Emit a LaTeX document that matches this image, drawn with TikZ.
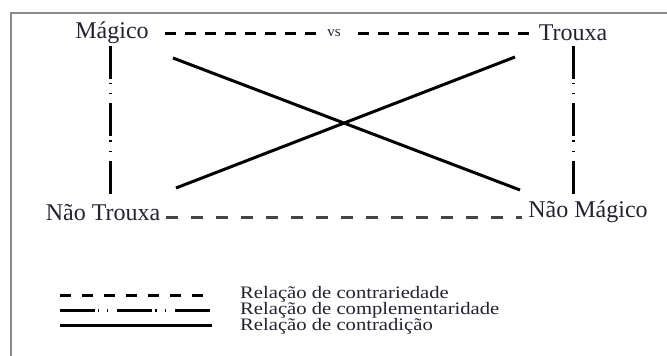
\documentclass[tikz,border=0pt]{standalone}
\usepackage{fontspec}
\setmainfont{Liberation Serif}
\newfontfamily\legfont[FakeStretch=1.18]{Liberation Serif}
\definecolor{txt}{HTML}{222233}
\definecolor{frame}{HTML}{8A8A8A}
\definecolor{dgray}{HTML}{444444}
\begin{document}
\begin{tikzpicture}[x=1pt,y=-1pt,
  lbl/.style={inner sep=0pt, text=txt, font=\fontsize{24}{24}\selectfont},
  leg/.style={inner sep=0pt, anchor=west, text=txt, font=\legfont\fontsize{17.5}{17.5}\selectfont},
  contra/.style={line width=3pt, dash pattern=on 11pt off 9pt},
  contrab/.style={line width=3pt, dgray, dash pattern=on 12pt off 13pt},
  compl/.style={line width=3pt, dash pattern=on 33pt off 4pt on 1.2pt off 9pt on 1.2pt off 9pt},
  contrad/.style={line width=3pt},
]
\useasboundingbox (0,0) rectangle (667,356);
\fill[white] (0,0) rectangle (667,356);
\draw[frame, line width=2pt] (667,13) -- (11,13) -- (11,356);

\node[lbl] (mag) at (112,33) {Mágico};
\node[lbl] (tro) at (573,33) {Trouxa};
\node[lbl] (ntro) at (103,213) {Não Trouxa};
\node[lbl] (nmag) at (588,212) {Não Mágico};
\node[inner sep=0pt, text=txt, font=\fontsize{15}{15}\selectfont] (vs) at (334,33) {vs};

% endpoints
\coordinate (t1) at (165,33); \coordinate (t2) at (323,33);
\coordinate (t3) at (358,33); \coordinate (t4) at (530,33);
\coordinate (b1) at (166,217); \coordinate (b2) at (522,217);
\coordinate (l1) at (110,46); \coordinate (l2) at (110,197);
\coordinate (r1) at (573,46); \coordinate (r2) at (573,197);
\coordinate (x1) at (173,58); \coordinate (x2) at (520,190);
\coordinate (x3) at (176,188); \coordinate (x4) at (515,57);

\draw[contra] (t1) -- (t2);
\draw[contra] (t3) -- (t4);
\draw[contrab] (b1) -- (b2);
\draw[compl] (l1) -- (l2);
\draw[compl] (r1) -- (r2);
\draw[contrad] (x1) -- (x2);
\draw[contrad] (x3) -- (x4);

% legend
\coordinate (la1) at (60,295); \coordinate (la2) at (212,295);
\coordinate (lb1) at (60,310); \coordinate (lb2) at (212,310);
\coordinate (lc1) at (60,325); \coordinate (lc2) at (212,325);
\draw[contra, dash pattern=on 11pt off 11pt] (la1) -- (la2);
\draw[compl, dash pattern=on 35pt off 3pt on 1.2pt off 8pt on 1.2pt off 9pt] (lb1) -- (lb2);
\draw[contrad] (lc1) -- (lc2);
\node[leg] (ta) at (240,294) {Relação de contrariedade};
\node[leg] (tb) at (240,310) {Relação de complementaridade};
\node[leg] (tc) at (240,326) {Relação de contradição};
\end{tikzpicture}
\end{document}
